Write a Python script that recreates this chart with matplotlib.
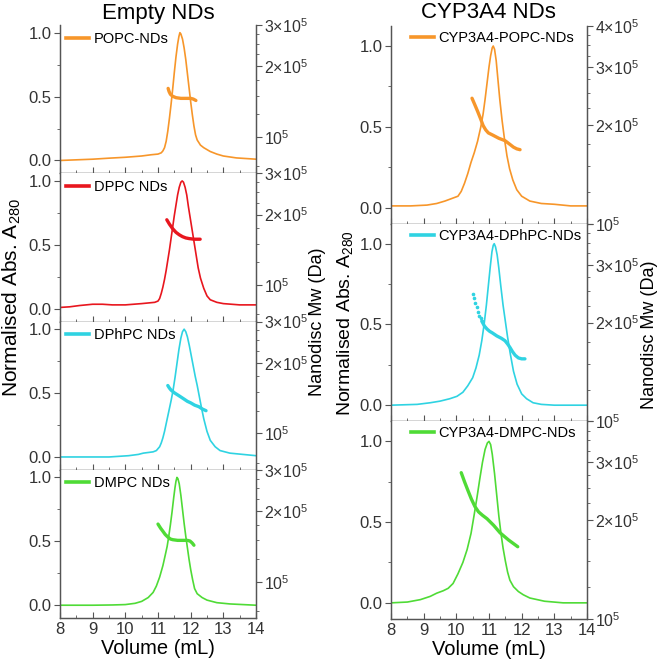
import matplotlib
matplotlib.use('Agg')
import matplotlib.pyplot as plt
from matplotlib.lines import Line2D

plt.rcParams['font.family'] = ['Liberation Sans', 'DejaVu Sans']
plt.rcParams['mathtext.fontset'] = 'custom'
plt.rcParams['mathtext.rm'] = 'Liberation Sans'

# colours of the traces
ORANGE = '#F7962A'
RED = '#E8161E'
CYAN = '#2FD3E2'
GREEN = '#4FDB36'
SPINE = '#555555'

# ---- Empty NDs: absorbance traces ----
popc_vol = [8, 8.5, 9, 9.5, 10, 10.5, 10.8, 11.0, 11.1, 11.15, 11.2, 11.25, 11.3, 11.35, 11.4,
            11.45, 11.5, 11.55, 11.6, 11.64, 11.67, 11.7, 11.75, 11.8, 11.85, 11.9, 11.95, 12.0,
            12.05, 12.1, 12.15, 12.2, 12.3, 12.4, 12.6, 12.8, 13.0, 13.4, 14]
popc_abs = [0.0, 0.005, 0.01, 0.018, 0.025, 0.035, 0.045, 0.05, 0.06, 0.075, 0.1, 0.15, 0.23,
            0.33, 0.44, 0.56, 0.69, 0.81, 0.91, 0.97, 1.0, 0.99, 0.95, 0.88, 0.79, 0.68, 0.57,
            0.46, 0.36, 0.27, 0.2, 0.16, 0.12, 0.1, 0.07, 0.05, 0.035, 0.02, 0.01]

dppc_vol = [8, 8.3, 8.6, 9.0, 9.3, 9.6, 10.0, 10.5, 10.9, 11.0, 11.05, 11.1, 11.15, 11.2, 11.25,
            11.3, 11.35, 11.4, 11.45, 11.5, 11.55, 11.6, 11.65, 11.7, 11.74, 11.78, 11.83,
            11.88, 11.93, 11.98, 12.03, 12.08, 12.13, 12.18, 12.23, 12.3, 12.4, 12.5, 12.6,
            12.8, 13.0, 13.5, 14]
dppc_abs = [0.01, 0.015, 0.025, 0.035, 0.035, 0.03, 0.03, 0.04, 0.05, 0.06, 0.08, 0.12, 0.17,
            0.23, 0.3, 0.38, 0.46, 0.55, 0.64, 0.73, 0.81, 0.89, 0.95, 0.99, 1.0, 0.99, 0.95,
            0.89, 0.8, 0.72, 0.64, 0.56, 0.48, 0.4, 0.32, 0.24, 0.16, 0.1, 0.07, 0.05, 0.04,
            0.03, 0.03]

dphpc_vol = [8, 9, 9.5, 9.8, 10.1, 10.4, 10.55, 10.7, 10.85, 10.95, 11.05, 11.1, 11.15, 11.2,
             11.25, 11.3, 11.35, 11.4, 11.46, 11.52, 11.58, 11.64, 11.7, 11.75, 11.8, 11.85,
             11.9, 11.96, 12.02, 12.08, 12.14, 12.2, 12.26, 12.32, 12.4, 12.5, 12.6, 12.75,
             12.9, 13.2, 13.6, 14]
dphpc_abs = [0.0, 0.0, 0.0, 0.005, 0.01, 0.02, 0.03, 0.035, 0.04, 0.05, 0.08, 0.11, 0.15, 0.2,
             0.26, 0.32, 0.38, 0.44, 0.52, 0.62, 0.73, 0.84, 0.93, 0.98, 1.0, 0.98, 0.94, 0.87,
             0.79, 0.71, 0.63, 0.56, 0.48, 0.4, 0.3, 0.2, 0.13, 0.08, 0.05, 0.03, 0.02, 0.01]

dmpc_vol = [8, 9, 9.6, 10, 10.3, 10.5, 10.7, 10.85, 10.95, 11.05, 11.15, 11.22, 11.28, 11.33,
            11.38, 11.43, 11.48, 11.52, 11.55, 11.58, 11.61, 11.65, 11.7, 11.75, 11.8, 11.85,
            11.9, 11.95, 12.0, 12.06, 12.12, 12.2, 12.35, 12.5, 12.8, 13.2, 14]
dmpc_abs = [0.0, 0.0, 0.002, 0.005, 0.015, 0.03, 0.06, 0.1, 0.15, 0.22, 0.31, 0.39, 0.46,
            0.54, 0.63, 0.73, 0.84, 0.92, 0.97, 1.0, 0.99, 0.95, 0.86, 0.75, 0.64, 0.54, 0.45,
            0.36, 0.28, 0.2, 0.13, 0.09, 0.06, 0.04, 0.02, 0.01, 0.0]

# ---- Empty NDs: molecular weight (Da) ----
popc_mw_vol = [11.31, 11.34, 11.38, 11.45, 11.55, 11.7, 11.85, 12.0, 12.08, 12.16]
popc_mw = [1.61e5, 1.56e5, 1.52e5, 1.49e5, 1.47e5, 1.46e5, 1.46e5, 1.46e5, 1.45e5, 1.43e5]

dppc_mw_vol = [11.27, 11.35, 11.45, 11.55, 11.65, 11.75, 11.85, 11.95, 12.1, 12.29]
dppc_mw = [1.9e5, 1.82e5, 1.74e5, 1.68e5, 1.64e5, 1.61e5, 1.59e5, 1.58e5, 1.57e5, 1.57e5]

dphpc_mw_vol = [11.3, 11.35, 11.4, 11.5, 11.6, 11.7, 11.8, 11.9, 12.0, 12.12, 12.25, 12.36, 12.47]
dphpc_mw = [1.6e5, 1.56e5, 1.53e5, 1.49e5, 1.46e5, 1.43e5, 1.40e5, 1.37e5, 1.35e5, 1.32e5,
            1.3e5, 1.27e5, 1.25e5]

dmpc_mw_vol = [11.0, 11.08, 11.15, 11.22, 11.3, 11.38, 11.45, 11.6, 11.75, 11.9, 11.98, 12.05, 12.1]
dmpc_mw = [1.76e5, 1.69e5, 1.64e5, 1.59e5, 1.55e5, 1.52e5, 1.51e5, 1.50e5, 1.50e5, 1.50e5,
           1.49e5, 1.46e5, 1.43e5]

# ---- CYP3A4 NDs: absorbance traces ----
cpopc_vol = [8, 8.6, 9.1, 9.4, 9.65, 9.85, 10.05, 10.15, 10.25, 10.35, 10.45, 10.55, 10.65,
             10.75, 10.82, 10.88, 10.94, 11.0, 11.05, 11.1, 11.13, 11.17, 11.22, 11.27, 11.33,
             11.4, 11.47, 11.55, 11.63, 11.73, 11.85, 12.0, 12.25, 12.6, 13, 13.5, 14]
cpopc_abs = [0.01, 0.01, 0.015, 0.025, 0.04, 0.055, 0.07, 0.1, 0.15, 0.21, 0.28, 0.34, 0.41,
             0.5, 0.58, 0.67, 0.77, 0.87, 0.94, 0.99, 1.0, 0.98, 0.91, 0.8, 0.67, 0.54, 0.43,
             0.32, 0.24, 0.17, 0.11, 0.07, 0.04, 0.025, 0.02, 0.01, 0.01]

cdphpc_vol = [8, 8.8, 9.2, 9.5, 9.8, 10.02, 10.2, 10.35, 10.5, 10.6, 10.7, 10.78, 10.85, 10.92,
              10.98, 11.04, 11.09, 11.13, 11.16, 11.2, 11.25, 11.3, 11.36, 11.43, 11.5, 11.57,
              11.65, 11.75, 11.86, 12.0, 12.15, 12.35, 12.6, 13, 14]
cdphpc_abs = [0.0, 0.005, 0.015, 0.025, 0.04, 0.055, 0.08, 0.12, 0.17, 0.23, 0.31, 0.4, 0.5,
              0.62, 0.74, 0.86, 0.95, 0.99, 1.0, 0.98, 0.93, 0.85, 0.74, 0.62, 0.52, 0.42, 0.32,
              0.21, 0.13, 0.07, 0.04, 0.015, 0.005, 0.0, 0.0]

cdmpc_vol = [8, 8.5, 8.9, 9.2, 9.4, 9.6, 9.75, 9.9, 10.05, 10.2, 10.33, 10.45, 10.55, 10.63,
             10.72, 10.8, 10.88, 10.95, 11.0, 11.05, 11.1, 11.17, 11.24, 11.3, 11.36, 11.43, 11.5,
             11.57, 11.64, 11.75, 11.9, 12.05, 12.25, 12.7, 13.27, 14]
cdmpc_abs = [0.0, 0.005, 0.02, 0.04, 0.06, 0.075, 0.09, 0.12, 0.18, 0.25, 0.33, 0.43, 0.55,
             0.65, 0.77, 0.87, 0.95, 0.99, 1.0, 0.98, 0.92, 0.8, 0.66, 0.54, 0.44, 0.34, 0.26,
             0.19, 0.14, 0.1, 0.07, 0.05, 0.03, 0.01, 0.0, 0.0]

# ---- CYP3A4 NDs: molecular weight (Da) ----
cpopc_mw_vol = [10.48, 10.56, 10.65, 10.74, 10.82, 10.9, 10.98, 11.12, 11.3, 11.49, 11.62,
                11.75, 11.85, 11.95]
cpopc_mw = [2.41e5, 2.31e5, 2.2e5, 2.09e5, 1.99e5, 1.93e5, 1.89e5, 1.86e5, 1.82e5, 1.79e5,
            1.75e5, 1.71e5, 1.69e5, 1.68e5]

# first part of the DPhPC trace is sparse (dotted)
cdphpc_mw_dot_vol = [10.5, 10.54, 10.58, 10.62, 10.66, 10.7, 10.74, 10.78]
cdphpc_mw_dot = [2.44e5, 2.37e5, 2.3e5, 2.23e5, 2.16e5, 2.1e5, 2.06e5, 2.02e5]
cdphpc_mw_vol = [10.78, 10.86, 10.94, 11.02, 11.1, 11.24, 11.38, 11.49, 11.57, 11.64, 11.72,
                 11.8, 11.9, 12.0, 12.1]
cdphpc_mw = [2.02e5, 1.95e5, 1.91e5, 1.88e5, 1.86e5, 1.82e5, 1.79e5, 1.76e5, 1.72e5, 1.68e5,
             1.63e5, 1.59e5, 1.56e5, 1.55e5, 1.55e5]

cdmpc_mw_vol = [10.15, 10.25, 10.35, 10.46, 10.57, 10.68, 10.8, 10.94, 11.14, 11.34, 11.6, 11.88]
cdmpc_mw = [2.79e5, 2.62e5, 2.47e5, 2.32e5, 2.2e5, 2.12e5, 2.07e5, 2.02e5, 1.93e5, 1.83e5,
            1.74e5, 1.66e5]

left_panels = [
    ('POPC-NDs', ORANGE, popc_vol, popc_abs, popc_mw_vol, popc_mw),
    ('DPPC NDs', RED, dppc_vol, dppc_abs, dppc_mw_vol, dppc_mw),
    ('DPhPC NDs', CYAN, dphpc_vol, dphpc_abs, dphpc_mw_vol, dphpc_mw),
    ('DMPC NDs', GREEN, dmpc_vol, dmpc_abs, dmpc_mw_vol, dmpc_mw),
]
right_panels = [
    ('CYP3A4-POPC-NDs', ORANGE, cpopc_vol, cpopc_abs, cpopc_mw_vol, cpopc_mw),
    ('CYP3A4-DPhPC-NDs', CYAN, cdphpc_vol, cdphpc_abs, cdphpc_mw_vol, cdphpc_mw),
    ('CYP3A4-DMPC-NDs', GREEN, cdmpc_vol, cdmpc_abs, cdmpc_mw_vol, cdmpc_mw),
]

W, H = 665, 670
fig = plt.figure(figsize=(W / 100, H / 100), dpi=100)


def style_axes(ax, ax2, show_x, mw_lim, mw_ticks, mw_labels, mw_minor):
    ax.set_xlim(8, 14)
    ax.set_xticks(range(8, 15))
    ax.set_xticks([8.5 + i for i in range(6)], minor=True)
    ax.set_yticks([0.0, 0.5, 1.0])
    ax.set_yticks([0.25, 0.75], minor=True)
    ax.set_yticklabels(['0.0', '0.5', '1.0'])
    ax.spines['top'].set_visible(False)
    ax2.spines['top'].set_visible(False)
    for sp in list(ax.spines.values()) + list(ax2.spines.values()):
        sp.set_color(SPINE)
        sp.set_linewidth(0.9)
    ax.tick_params(axis='x', which='both', direction='in', color=SPINE, labelsize=12,
                   labelcolor='#333333', labelbottom=show_x, pad=3)
    ax.tick_params(axis='x', which='major', length=4)
    ax.tick_params(axis='x', which='minor', length=2.5)
    ax.tick_params(axis='y', which='both', direction='out', color=SPINE, labelsize=12,
                   labelcolor='#333333', pad=2)
    ax.tick_params(axis='y', which='major', length=4)
    ax.tick_params(axis='y', which='minor', length=2.5)

    ax2.set_yscale('log')
    ax2.set_ylim(*mw_lim)
    ax2.set_yticks(mw_ticks)
    ax2.set_yticklabels(mw_labels)
    ax2.set_yticks(mw_minor, minor=True)
    ax2.yaxis.set_minor_formatter(plt.NullFormatter())
    ax2.tick_params(axis='y', which='both', direction='out', color=SPINE, labelsize=11.5,
                    labelcolor='#333333', pad=2)
    ax2.tick_params(axis='y', which='major', length=4)
    ax2.tick_params(axis='y', which='minor', length=2.5)


def draw_column(panels, x0, top, bottom, ylim, mw_lim, mw_ticks, mw_labels, mw_minor,
                leg_x, leg_y, drop_top_label=False, dotted=None):
    n = len(panels)
    width = 196 / W
    ph = (bottom - top) / n
    axes = []
    for i, (label, color, vol, ab, mvol, mw) in enumerate(panels):
        y_top = top + i * ph
        ax = fig.add_axes([x0 / W, 1 - (y_top + ph) / H, width, ph / H])
        ax2 = ax.twinx()
        ax.plot(vol, ab, color=color, lw=1.2)
        ax2.plot(mvol, mw, color=color, lw=2.4, solid_capstyle='round')
        if dotted is not None and i == dotted[0]:
            ax2.plot(dotted[1], dotted[2], color=color, lw=0, marker='o', ms=1.6)
        ax.set_ylim(*ylim)
        labels = list(mw_labels)
        if drop_top_label and i > 0:
            labels[-1] = ''
        style_axes(ax, ax2, i == n - 1, mw_lim, mw_ticks, labels, mw_minor)
        handle = Line2D([], [], color=color, lw=2.6)
        ax.legend([handle], [label], loc='upper left', bbox_to_anchor=(leg_x, leg_y),
                  frameon=False, fontsize=10.5, handlelength=1.6, handletextpad=0.3,
                  borderaxespad=0, borderpad=0)
        axes.append(ax)
    return axes


tick_fmt = r'$\mathregular{%d×10^{5}}$'
left_axes = draw_column(left_panels, 60, 25, 618, (-0.1, 1.06), (7e4, 3e5),
                        [1e5, 2e5, 3e5],
                        [r'$\mathregular{10^{5}}$', tick_fmt % 2, tick_fmt % 3],
                        [7.5e4, 1.25e5, 1.5e5, 1.75e5, 2.25e5, 2.5e5, 2.75e5],
                        0.03, 0.955)
right_axes = draw_column(right_panels, 391, 26, 619, (-0.1, 1.124), (1e5, 4e5),
                         [1e5, 2e5, 3e5, 4e5],
                         [r'$\mathregular{10^{5}}$', tick_fmt % 2, tick_fmt % 3, tick_fmt % 4],
                         [1.25e5, 1.5e5, 1.75e5, 2.25e5, 2.5e5, 2.75e5, 3.25e5, 3.5e5, 3.75e5],
                         0.1, 0.975, drop_top_label=True,
                         dotted=(1, cdphpc_mw_dot_vol, cdphpc_mw_dot))

# column titles
fig.text(158 / W, 1 - 13 / H, 'Empty NDs', ha='center', va='center', fontsize=16)
fig.text(488 / W, 1 - 13 / H, 'CYP3A4 NDs', ha='center', va='center', fontsize=16)

# axis titles
left_axes[-1].set_xlabel('Volume (mL)', fontsize=14.5, labelpad=1)
right_axes[-1].set_xlabel('Volume (mL)', fontsize=14.5, labelpad=1)
ylab = r'Normalised Abs. $\mathregular{A_{280}}$'
fig.text(12 / W, 1 - 298 / H, ylab, rotation=90, ha='center', va='center', fontsize=15)
fig.text(318 / W, 1 - 322 / H, 'Nanodisc Mw (Da)', rotation=90, ha='center', va='center',
         fontsize=13)
fig.text(345 / W, 1 - 323 / H, ylab, rotation=90, ha='center', va='center', fontsize=14)
fig.text(650 / W, 1 - 335 / H, 'Nanodisc Mw (Da)', rotation=90, ha='center', va='center',
         fontsize=13)

fig.savefig('out.png', dpi=100)
